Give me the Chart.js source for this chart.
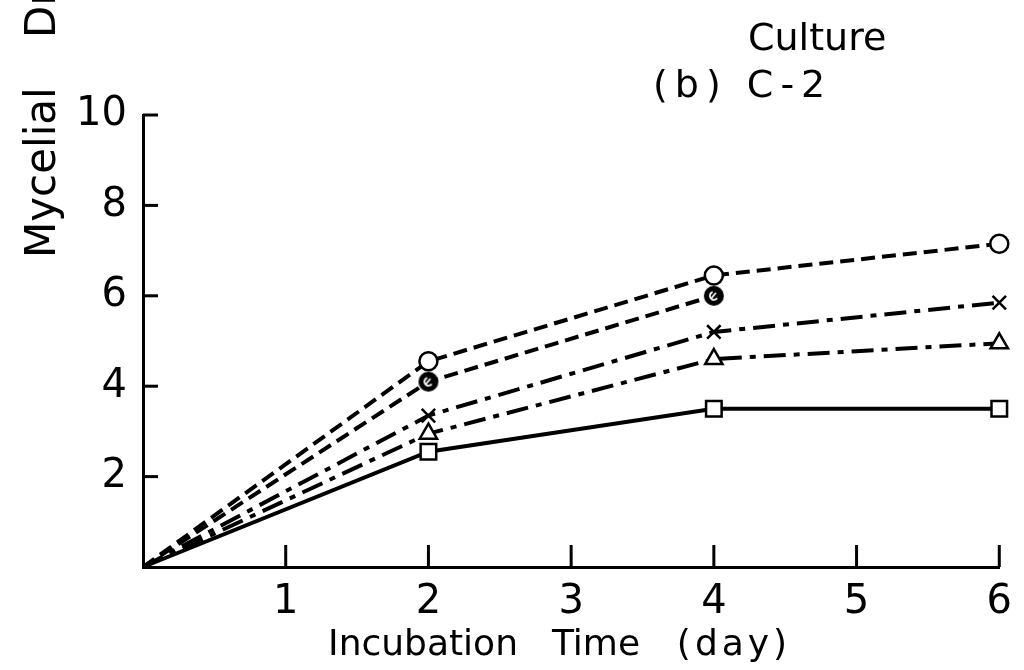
<!DOCTYPE html>
<html>
<head>
<meta charset="utf-8">
<script src="https://cdn.jsdelivr.net/npm/chart.js@4.4.1/dist/chart.umd.min.js"></script>
<style>
  html, body { margin: 0; padding: 0; background: #fff; }
  #wrap { width: 1024px; height: 670px; }
</style>
</head>
<body>
<div id="wrap"><canvas id="myChart"></canvas></div>
<script>
// data
const days = [0, 2, 4, 6];
const openCircle = [0, 4.55, 6.45, 7.15];
const filledCircle = [0, 4.1, 6.0];
const crossVals = [0, 3.35, 5.2, 5.85];
const triangleVals = [0, 2.95, 4.6, 4.95];
const squareVals = [0, 2.55, 3.5, 3.5];

const xTicks = [1, 2, 3, 4, 5, 6];
const yTicks = [2, 4, 6, 8, 10];

const titleLines = ['Culture', '(b) C-2'];
const xTitleWords = ['Incubation', 'Time', '(day)'];
const yTitle = 'Mycelial Dry Weight';

const FONT = '"DejaVu Sans", sans-serif';

// black circle marker with a white mark inside
function makeDot() {
    let c = document.createElement('canvas');
    c.width = 22; c.height = 22;
    let g = c.getContext('2d');
    g.fillStyle = '#000';
    g.beginPath(); g.arc(11, 11, 10, 0, Math.PI * 2); g.fill();
    g.strokeStyle = '#fff'; g.lineWidth = 1.8;
    g.beginPath(); g.arc(11, 11, 4, Math.PI * 0.2, Math.PI * 1.4); g.stroke();
    g.beginPath(); g.moveTo(8, 14); g.lineTo(13, 8); g.stroke();
    return c;
}

function series(vals, style, dash, r) {
    return {
        data: vals.map((v, i) => ({x: days[i], y: v})),
        borderColor: '#000',
        backgroundColor: '#fff',
        borderWidth: 4,
        borderDash: dash,
        pointStyle: style,
        pointRadius: ctx => ctx.dataIndex === 0 ? 0 : r,
        pointBorderWidth: 2.5,
        pointBorderColor: '#000',
        pointBackgroundColor: '#fff',
        tension: 0,
        clip: false
    };
}

const textPlugin = {
    id: 'texts',
    afterDraw(chart) {
        const ctx = chart.ctx;
        const xs = chart.scales.x, ys = chart.scales.y;
        ctx.save();
        ctx.strokeStyle = '#000';
        ctx.lineWidth = 3;
        // tick marks point into the plot
        xTicks.forEach(v => {
            let px = xs.getPixelForValue(v);
            ctx.beginPath(); ctx.moveTo(px, ys.bottom); ctx.lineTo(px, ys.bottom - 22); ctx.stroke();
        });
        yTicks.forEach(v => {
            let py = ys.getPixelForValue(v);
            ctx.beginPath(); ctx.moveTo(xs.left, py); ctx.lineTo(xs.left + 15, py); ctx.stroke();
        });

        ctx.fillStyle = '#000';
        ctx.textAlign = 'left';
        ctx.textBaseline = 'alphabetic';
        ctx.font = '38px ' + FONT;
        ctx.fillText(titleLines[0], 748, 50);
        ctx.letterSpacing = '7px';
        ctx.fillText(titleLines[1], 653, 97);
        ctx.letterSpacing = '0px';

        // x title, words spread out as in the figure
        ctx.font = '36px ' + FONT;
        ctx.textAlign = 'center';
        const wx = [423, 596, 734];
        xTitleWords.forEach((w, i) => {
            ctx.letterSpacing = i === 2 ? '4px' : '0px';
            ctx.fillText(w, wx[i], 655);
        });
        ctx.letterSpacing = '0px';

        ctx.textAlign = 'left';
        ctx.font = '42px ' + FONT;
        ctx.wordSpacing = '36px';
        ctx.translate(55, 258);
        ctx.rotate(-Math.PI / 2);
        ctx.fillText(yTitle, 0, 0);
        ctx.restore();
    }
};

Chart.defaults.font.family = FONT;
Chart.defaults.color = '#000';

let myChart = document.getElementById('myChart').getContext('2d');

let thisChart = new Chart(myChart, {
    type: 'line',
    data: {
        datasets: [
            series(openCircle, 'circle', [14, 7], 9),
            series(filledCircle, makeDot(), [14, 7], 10),
            series(crossVals, 'crossRot', [22, 8, 6, 8], 9.5),
            series(triangleVals, 'triangle', [22, 8, 6, 8], 10),
            series(squareVals, 'rect', [], 11)
        ]
    },
    options: {
        responsive: true,
        maintainAspectRatio: false,
        animation: false,
        layout: { padding: { left: 0, top: 115, right: 21, bottom: 0 } },
        plugins: { legend: { display: false }, tooltip: { enabled: false } },
        scales: {
            x: {
                type: 'linear',
                min: 0, max: 6,
                afterBuildTicks: s => { s.ticks = xTicks.map(v => ({value: v})); },
                afterFit: s => { s.height = 103; },
                grid: { display: false, drawTicks: false },
                border: { display: true, color: '#000', width: 3 },
                ticks: { font: { size: 40 }, padding: 12, maxRotation: 0 }
            },
            y: {
                min: 0, max: 10,
                afterBuildTicks: s => { s.ticks = yTicks.map(v => ({value: v})); },
                afterFit: s => { s.width = 143; },
                grid: { display: false, drawTicks: false },
                border: { display: true, color: '#000', width: 3 },
                ticks: { font: { size: 40 }, padding: 16 }
            }
        }
    },
    plugins: [textPlugin]
});
</script>
</body>
</html>
